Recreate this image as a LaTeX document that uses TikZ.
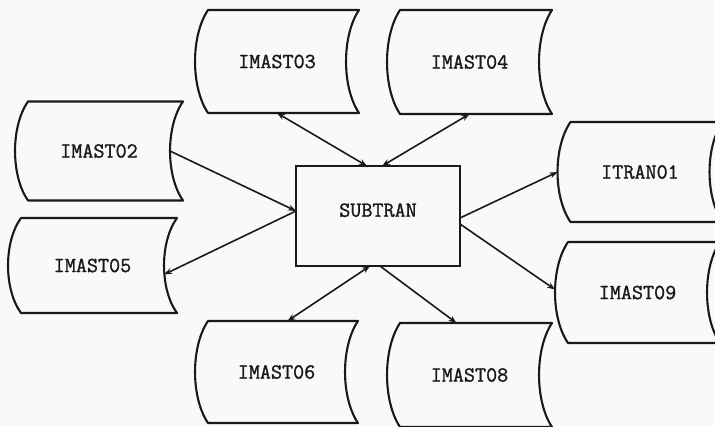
\documentclass[tikz,border=0pt]{standalone}
\usepackage{fontspec}
\newfontfamily\typew{Latin Modern Mono}[FakeBold=1.3]
\usetikzlibrary{calc,arrows.meta}
\definecolor{paper}{RGB}{249,249,247}
\definecolor{ink}{RGB}{25,25,25}
\begin{document}
\begin{tikzpicture}[x=1pt,y=-1pt,
  lbl/.style={font=\typew\fontsize{21.5}{21.5}\selectfont, text=ink, inner sep=0pt, outer sep=0pt},
  store/.style={lbl},
  proc/.style={lbl, draw=ink, line width=2.1pt, text depth=12pt},
  outline/.style={draw=ink, line width=2.1pt, line join=round},
  link/.style={draw=ink, line width=1.6pt, -{Stealth[length=8pt,width=6pt]}},
  both/.style={draw=ink, line width=1.6pt, {Stealth[length=8pt,width=6pt]}-{Stealth[length=8pt,width=6pt]}}]
\useasboundingbox (0,0) rectangle (715,426);
\fill[paper] (0,0) rectangle (715,426);
\clip (0,0) rectangle (715,426);

\node[store, minimum width=164pt, minimum height=103pt] (i03) at (277,61.5) {IMAST03};
\node[store, minimum width=165pt, minimum height=104pt] (i04) at (469.5,62) {IMAST04};
\node[store, minimum width=168pt, minimum height=99pt]  (i02) at (99,151) {IMAST02};
\node[store, minimum width=169pt, minimum height=95pt]  (i05) at (92.5,265.5) {IMAST05};
\node[proc,  minimum width=164pt, minimum height=100pt] (sub) at (378,216) {SUBTRAN};
\node[store, minimum width=165pt, minimum height=100pt] (t01) at (640,172) {ITRAN01};
\node[store, minimum width=165pt, minimum height=101pt] (i09) at (637.5,292.5) {IMAST09};
\node[store, minimum width=163pt, minimum height=102pt] (i06) at (276.5,372) {IMAST06};
\node[store, minimum width=165pt, minimum height=104pt] (i08) at (469.5,375) {IMAST08};

\foreach \n in {i02,i03,i04,i05,i06,i08,t01,i09}{
  \draw[outline] ($(\n.north west)+(13,0)$) -- (\n.north east)
    .. controls ($(\n.north east)!0.25!(\n.south east)+(-17.3,0)$) and ($(\n.north east)!0.75!(\n.south east)+(-17.3,0)$) .. (\n.south east)
    -- ($(\n.south west)+(13,0)$)
    .. controls ($(\n.south west)!0.25!(\n.north west)+(-4.3,0)$) and ($(\n.south west)!0.75!(\n.north west)+(-4.3,0)$) .. cycle;
}

\draw[both] (i03.south) -- ($(sub.north)+(-11,0)$);
\draw[both] (i04.south) -- ($(sub.north)+(4,0)$);
\draw[link] ($(i02.east)+(-13,0)$) -- ($(sub.west)+(0,-5)$);
\draw[link] ($(sub.west)+(0,-5)$) -- ($(i05.east)+(-13,9)$);
\draw[link] ($(sub.east)+(0,2)$) -- (t01.west);
\draw[link] ($(sub.east)+(0,8)$) -- ($(i09.west)+(0,-3)$);
\draw[both] ($(sub.south)+(-8,0)$) -- ($(i06.north)+(11,0)$);
\draw[link] ($(sub.south)+(2,0)$) -- ($(i08.north)+(-13,0)$);
\end{tikzpicture}
\end{document}
